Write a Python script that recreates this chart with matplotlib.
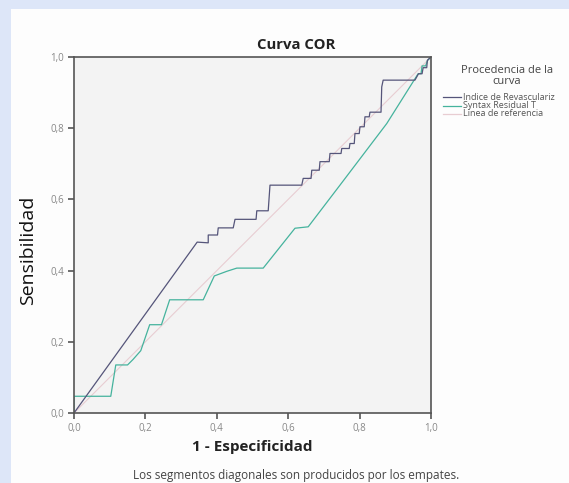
import matplotlib
matplotlib.use('Agg')
import matplotlib.pyplot as plt
from matplotlib.patches import Rectangle
from matplotlib.lines import Line2D

# ROC curve points
idx_x = [0.0, 0.345, 0.376, 0.376, 0.402, 0.404, 0.446, 0.451, 0.510, 0.512,
         0.544, 0.549, 0.638, 0.642, 0.664, 0.666, 0.687, 0.689, 0.715, 0.717,
         0.748, 0.750, 0.771, 0.773, 0.785, 0.787, 0.799, 0.801, 0.813, 0.815,
         0.827, 0.829, 0.860, 0.862, 0.866, 0.955, 0.965, 0.975, 0.978, 0.988,
         0.990, 1.0]
idx_y = [0.0, 0.480, 0.478, 0.500, 0.500, 0.520, 0.520, 0.544, 0.544, 0.568,
         0.568, 0.640, 0.640, 0.659, 0.659, 0.682, 0.682, 0.706, 0.706, 0.729,
         0.729, 0.743, 0.743, 0.757, 0.757, 0.785, 0.785, 0.804, 0.804, 0.832,
         0.832, 0.845, 0.845, 0.916, 0.935, 0.935, 0.953, 0.953, 0.970, 0.970,
         0.991, 1.0]

syn_x = [0.0, 0.0, 0.103, 0.117, 0.150, 0.165, 0.187, 0.212, 0.245, 0.268,
         0.362, 0.393, 0.428, 0.456, 0.530, 0.619, 0.656, 0.745, 0.876, 0.964,
         0.972, 0.975, 0.985, 0.990, 1.0]
syn_y = [0.0, 0.047, 0.047, 0.135, 0.135, 0.150, 0.175, 0.248, 0.248, 0.318,
         0.318, 0.385, 0.398, 0.407, 0.407, 0.519, 0.523, 0.640, 0.813, 0.953,
         0.953, 0.975, 0.975, 0.990, 1.0]

ref_x = [0.0, 1.0]
ref_y = [0.0, 1.0]

tick_vals = [0.0, 0.2, 0.4, 0.6, 0.8, 1.0]
tick_labels = ['0,0', '0,2', '0,4', '0,6', '0,8', '1,0']

legend_title = 'Procedencia de la\ncurva'
# first label is cut at the right edge in the picture
series_names = ['Indice de Revasculariz', 'Syntax Residual T', 'Linea de referencia']
series_colors = ['#55557a', '#45b39d', '#e8cdd2']

W, H = 569, 483
fig = plt.figure(figsize=(W / 100, H / 100), dpi=100)
fig.patch.set_facecolor('#dde6f8')
fig.add_artist(Rectangle((11 / W, 0), 1, 1 - 9 / H, transform=fig.transFigure,
                         facecolor='#fdfdfd', edgecolor='none', zorder=0))

ax = fig.add_axes([74 / W, 1 - 413 / H, 357 / W, 356 / H])
ax.set_facecolor('#f3f3f3')
ax.plot(ref_x, ref_y, color=series_colors[2], lw=0.8)
ax.plot(syn_x, syn_y, color=series_colors[1], lw=0.9)
ax.plot(idx_x, idx_y, color=series_colors[0], lw=0.9)

ax.set_xlim(0, 1)
ax.set_ylim(0, 1)
ax.set_xticks(tick_vals)
ax.set_xticklabels(tick_labels)
ax.set_yticks(tick_vals)
ax.set_yticklabels(tick_labels)
ax.tick_params(direction='out', length=4, width=1.2, color='#555555',
               labelsize=7, labelcolor='#888888', pad=3)
for lab in ax.get_xticklabels() + ax.get_yticklabels():
    lab.set_family('Open Sans')
for s in ax.spines.values():
    s.set_color('#555555')
    s.set_linewidth(1.2)

fig.text(296 / W, 1 - 45 / H, 'Curva COR', ha='center', va='center',
         fontsize=10.7, fontweight='bold', color='#222222', family='Open Sans')
fig.text(252 / W, 1 - 447 / H, '1 - Especificidad', ha='center', va='center',
         fontsize=11, fontweight='bold', color='#222222', family='Open Sans')
fig.text(28 / W, 1 - 250 / H, 'Sensibilidad', ha='center', va='center',
         rotation=90, fontsize=14, color='#111111', family='Open Sans')
fig.text(296 / W, 1 - 475 / H,
         'Los segmentos diagonales son producidos por los empates.',
         ha='center', va='center', fontsize=8.5, color='#444444', family='Open Sans')

# legend drawn by hand
fig.text(507 / W, 1 - 76 / H, legend_title, ha='center', va='center',
         fontsize=8, color='#444444', family='Open Sans', linespacing=1.05)
for i, (name, col) in enumerate(zip(series_names, series_colors)):
    yy = 1 - (97 + 8.5 * i) / H
    fig.add_artist(Line2D([443 / W, 461 / W], [yy, yy], color=col, lw=0.9,
                          transform=fig.transFigure))
    fig.text(463 / W, yy, name, ha='left', va='center', fontsize=6.5,
             color='#555555', family='Open Sans')

plt.savefig('out.png', dpi=100)
